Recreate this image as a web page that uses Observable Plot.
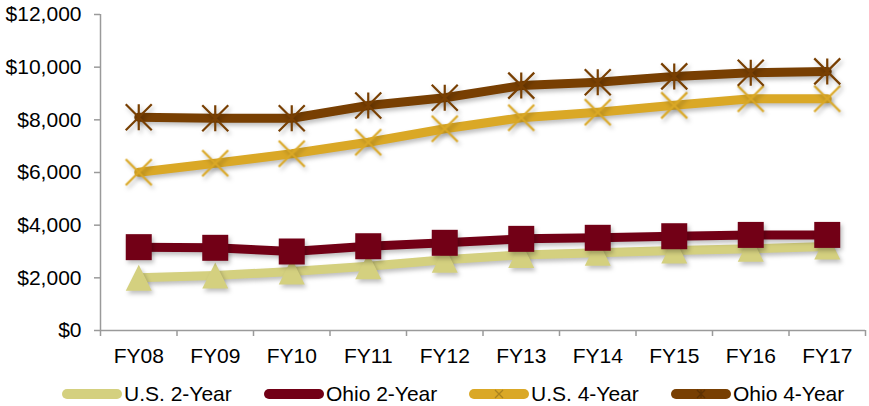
<!DOCTYPE html>
<html>
<head>
<meta charset="utf-8">
<script src="https://cdn.jsdelivr.net/npm/d3@7"></script>
<script src="https://cdn.jsdelivr.net/npm/@observablehq/plot@0.6"></script>
<style>
  html, body { margin: 0; padding: 0; background: #fff; }
  #chart svg g[aria-label="line"], #chart svg g[aria-label="dot"] {
    filter: drop-shadow(2px 3px 2px rgba(0,0,0,0.25));
  }
  #legend { width: 869px; height: 34px; }
</style>
</head>
<body>
<div id="chart"></div>
<div id="legend"></div>
<script>
const categories = ["FY08", "FY09", "FY10", "FY11", "FY12", "FY13", "FY14", "FY15", "FY16", "FY17"];
const usTwoYear    = [2000, 2090, 2240, 2440, 2690, 2870, 2950, 3040, 3100, 3190];
const ohioTwoYear  = [3165, 3140, 3000, 3200, 3330, 3480, 3520, 3580, 3630, 3630];
const usFourYear   = [6010, 6350, 6710, 7150, 7660, 8080, 8290, 8550, 8800, 8800];
const ohioFourYear = [8100, 8060, 8060, 8545, 8840, 9300, 9430, 9650, 9790, 9840];
const yTicks = [0, 2000, 4000, 6000, 8000, 10000, 12000];
const seriesNames = ["U.S. 2-Year", "Ohio 2-Year", "U.S. 4-Year", "Ohio 4-Year"];
const seriesColors = ["#D4D07F", "#720016", "#DAA826", "#783F02"];

// custom marker shapes (size = PI * r^2)
const rOf = s => Math.sqrt(s / Math.PI);
const triangle = {draw(c, s) { const r = rOf(s); c.moveTo(0, -r); c.lineTo(r, r); c.lineTo(-r, r); c.closePath(); }};
const square = {draw(c, s) { const r = rOf(s); c.rect(-r, -r, 2 * r, 2 * r); }};
const times = {draw(c, s) { const r = rOf(s); c.moveTo(-r, -r); c.lineTo(r, r); c.moveTo(-r, r); c.lineTo(r, -r); }};
const star = {draw(c, s) { const r = rOf(s); c.moveTo(-r, -r); c.lineTo(r, r); c.moveTo(-r, r); c.lineTo(r, -r); c.moveTo(0, -r); c.lineTo(0, r); }};

const seriesValues = [usTwoYear, ohioTwoYear, usFourYear, ohioFourYear];
const seriesSymbols = [triangle, square, times, star];
const seriesFilled = [true, true, false, false];

const series = seriesNames.map((name, k) => ({
  name, color: seriesColors[k], symbol: seriesSymbols[k], filled: seriesFilled[k],
  data: categories.map((c, i) => ({i, category: c, value: seriesValues[k][i]}))
}));

const boundaries = d3.range(categories.length + 1).map(i => i - 0.5);

const marks = [
  Plot.ruleY([0], {stroke: "#9a9a9a", strokeWidth: 1.5}),
  Plot.ruleX([-0.5], {stroke: "#9a9a9a", strokeWidth: 1.5}),
  Plot.axisY({ticks: yTicks, tickSize: 6, tickPadding: 13, tickFormat: d3.format("$,"),
              stroke: "#9a9a9a", strokeWidth: 1.5, fill: "#000", fontSize: 21, label: null}),
  Plot.axisX({ticks: boundaries, tickSize: 6, tickFormat: () => "", stroke: "#9a9a9a", strokeWidth: 1.5, label: null}),
  Plot.axisX({ticks: d3.range(categories.length), tickSize: 0, tickPadding: 18,
              tickFormat: i => categories[i], fill: "#000", fontSize: 21, label: null})
];

for (const s of series) {
  marks.push(Plot.line(s.data, {x: "i", y: "value", stroke: s.color, strokeWidth: 9,
                                strokeLinejoin: "round", strokeLinecap: "round"}));
  marks.push(Plot.dot(s.data, {x: "i", y: "value", symbol: s.symbol, r: 13,
                               fill: s.filled ? s.color : "none",
                               stroke: s.filled ? "none" : s.color,
                               strokeWidth: s.filled ? 0 : 2.2}));
}

const chart = Plot.plot({
  width: 869, height: 372,
  marginLeft: 100, marginRight: 4, marginTop: 14, marginBottom: 42,
  x: {domain: [-0.5, categories.length - 0.5], axis: null},
  y: {domain: [0, 12000], axis: null},
  style: {fontFamily: "'Liberation Sans', Arial, sans-serif", fontSize: "21px", color: "#000", background: "#fff"},
  marks
});
document.getElementById("chart").appendChild(chart);

// legend below the chart
const lsvg = d3.select("#legend").append("svg").attr("width", 869).attr("height", 34)
  .style("font-family", "'Liberation Sans', Arial, sans-serif").style("font-size", "21px");
const legendStarts = [63, 265, 470, 672];
const legendMarkerR = [4, 5, 4, 4];
series.forEach((s, k) => {
  const x0 = legendStarts[k];
  const g = lsvg.append("g").attr("transform", `translate(${x0},22)`);
  g.append("line").attr("x1", 4).attr("x2", 54).attr("y1", 0).attr("y2", 0)
    .attr("stroke", s.color).attr("stroke-width", 10).attr("stroke-linecap", "round");
  g.append("path").attr("transform", "translate(29,0)")
    .attr("d", d3.symbol(s.symbol, Math.PI * legendMarkerR[k] ** 2)())
    .attr("fill", s.filled ? s.color : "none")
    .attr("stroke", s.filled ? "none" : d3.color(s.color).darker(0.7))
    .attr("stroke-width", 1.3);
  g.append("text").attr("x", 61).attr("y", 0).attr("dy", "0.35em").attr("fill", "#000").text(s.name);
});
</script>
</body>
</html>
